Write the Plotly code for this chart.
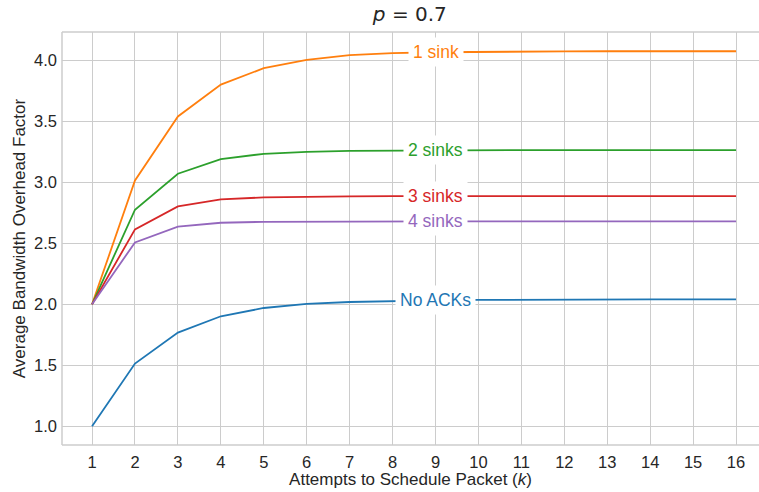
import plotly.graph_objects as go

k = list(range(1, 17))
no_acks = [1.0, 1.514, 1.768, 1.902, 1.970, 2.003, 2.019, 2.028, 2.033, 2.036, 2.038, 2.039, 2.040, 2.040, 2.040, 2.040]
sink1 = [2.0, 3.016, 3.541, 3.803, 3.937, 4.006, 4.044, 4.060, 4.068, 4.072, 4.074, 4.075, 4.076, 4.076, 4.076, 4.076]
sink2 = [2.0, 2.776, 3.071, 3.191, 3.235, 3.251, 3.259, 3.262, 3.264, 3.265, 3.265, 3.265, 3.265, 3.265, 3.265, 3.265]
sink3 = [2.0, 2.615, 2.803, 2.861, 2.877, 2.883, 2.886, 2.887, 2.888, 2.888, 2.888, 2.888, 2.888, 2.888, 2.888, 2.888]
sink4 = [2.0, 2.508, 2.637, 2.669, 2.677, 2.679, 2.680, 2.680, 2.680, 2.680, 2.680, 2.680, 2.680, 2.680, 2.680, 2.680]

series = [
    ("No ACKs", no_acks, "#1f77b4"),
    ("1 sink", sink1, "#ff7f0e"),
    ("2 sinks", sink2, "#2ca02c"),
    ("3 sinks", sink3, "#d62728"),
    ("4 sinks", sink4, "#9467bd"),
]
label_x = 9

FONT = "Liberation Sans, Arial"
fig = go.Figure()
for name, vals, col in series:
    fig.add_trace(go.Scatter(x=k, y=vals, mode="lines", name=name,
                             line=dict(color=col, width=1.8)))
for name, vals, col in series:
    fig.add_annotation(x=label_x, y=vals[k.index(label_x)], text=name, showarrow=False,
                       font=dict(color=col, size=17.5, family=FONT),
                       bgcolor="white", borderpad=4, xanchor="center", yanchor="middle")

grid = "#cccccc"
fig.update_layout(
    width=759, height=492,
    margin=dict(l=62, r=0, t=32, b=47),
    paper_bgcolor="white", plot_bgcolor="white",
    showlegend=False,
    font=dict(family=FONT, color="#262626", size=16),
    title=dict(text="<i>p</i> = 0.7", x=0.54, xanchor="center", y=0.985, yanchor="top",
               font=dict(size=20, family="DejaVu Sans", color="#262626")),
    xaxis=dict(range=[0.30, 16.535], tickvals=k, ticktext=[str(v) for v in k],
               showgrid=True, gridcolor=grid, gridwidth=1, zeroline=False, automargin=False,
               ticks="", ticklabelstandoff=5, tickfont=dict(size=16.5, color="#262626"),
               title=dict(text="Attempts to Schedule Packet (<i>k</i>)", font=dict(size=17), standoff=2)),
    yaxis=dict(range=[0.846, 4.234], tickvals=[1.0, 1.5, 2.0, 2.5, 3.0, 3.5, 4.0],
               ticktext=["1.0", "1.5", "2.0", "2.5", "3.0", "3.5", "4.0"],
               showgrid=True, gridcolor=grid, gridwidth=1, zeroline=False, automargin=False,
               ticks="", ticklabelstandoff=4, tickfont=dict(size=16.5, color="#262626"),
               title=dict(text="Average Bandwidth Overhead Factor", font=dict(size=17), standoff=4)),
)
for (x0, y0, x1, y1) in [(0, 0, 0, 1), (0, 1, 1, 1), (0, 0, 1, 0)]:
    fig.add_shape(type="line", xref="paper", yref="paper", x0=x0, y0=y0, x1=x1, y1=y1,
                  line=dict(color=grid, width=1.5))

fig.write_html("out.html", config={"displayModeBar": False},
               post_script="document.body.style.margin='0';document.body.style.overflow='hidden';")
